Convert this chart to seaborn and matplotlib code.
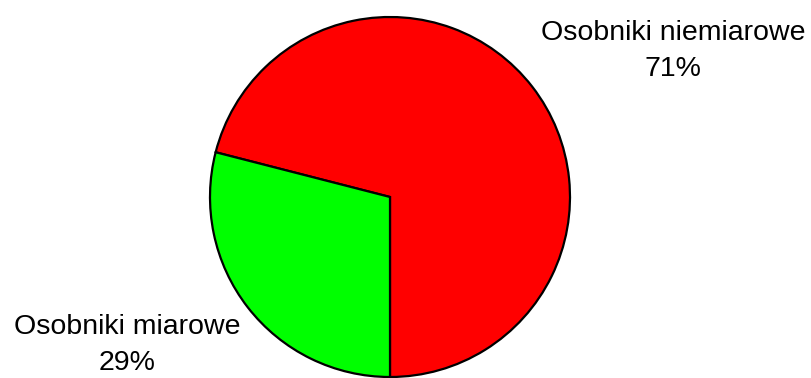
import matplotlib
matplotlib.use("Agg")
import matplotlib.pyplot as plt
import seaborn as sns

# data
categories = ["Osobniki niemiarowe", "Osobniki miarowe"]
shares = [71, 29]
colors = ["#FF0000", "#00FF00"]

sns.set_theme(style="white")
plt.rcParams["font.family"] = ["Liberation Sans", "DejaVu Sans"]

W, H = 811, 378
cx, cy, r = 390, 197, 180

fig = plt.figure(figsize=(W / 100, H / 100), dpi=100)
ax = fig.add_axes([0, 0, 1, 1])

wedges, _ = ax.pie(
    shares,
    colors=colors,
    startangle=-90,
    counterclock=True,
    wedgeprops=dict(edgecolor="black", linewidth=1.6),
)

# map pixels -> data units (radius 1 == r px)
ax.set_xlim(-cx / r, (W - cx) / r)
ax.set_ylim(-(H - cy) / r, cy / r)
ax.set_aspect("equal")
ax.axis("off")

label_pos = [(673, 51), (127, 345)]
for (px, py), name, v in zip(label_pos, categories, shares):
    ax.text((px - cx) / r, (cy - py) / r, f"{name}\n{v}%",
            ha="center", va="center", fontsize=20.5, linespacing=1.55,
            color="black")

fig.savefig("out.png", dpi=100)
